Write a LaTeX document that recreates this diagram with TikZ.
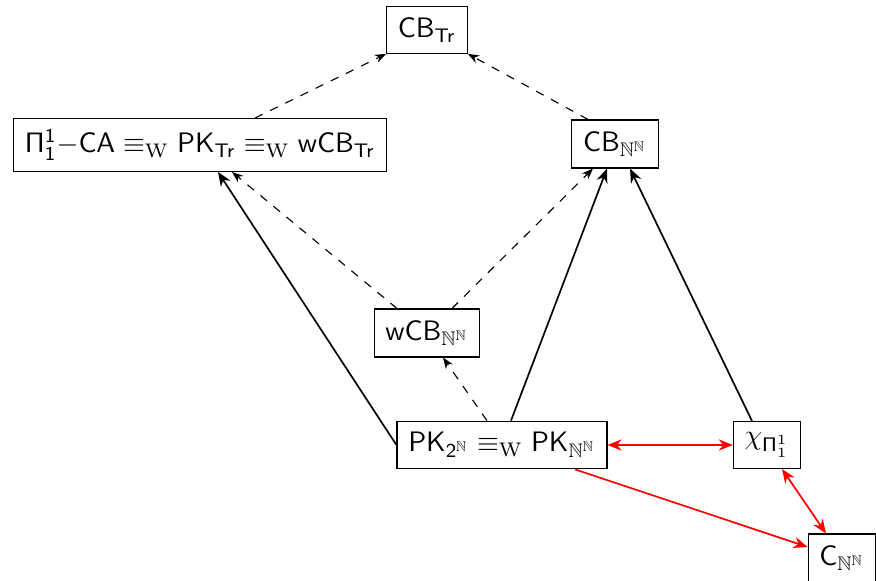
\documentclass[tikz,border=0pt]{standalone}
\usepackage{amssymb}
\usepackage{xcolor}
\usepackage{tikz}
\usetikzlibrary{calc,arrows.meta}

\begin{document}
\begin{tikzpicture}[x=0.0125cm,y=-0.0125cm,
    box/.style={draw, font=\sffamily, inner sep=4pt},
    weak/.style={dashed, -{Stealth[length=4pt,width=3pt]}},
    strong/.style={semithick, -{Stealth[length=5pt,width=4pt]}},
    equiv/.style={red, semithick, {Stealth[length=5pt,width=4pt]}-{Stealth[length=5pt,width=4pt]}},
    redarr/.style={red, semithick, -{Stealth[length=5pt,width=4pt]}}]
  \useasboundingbox (0,0) rectangle (876,581);
  % nodes
  \node[box] (cbtr) at (427,30) {CB$_{\mathsf{Tr}}$};
  \node[box] (pica) at (200,145) {$\mathsf{\Pi^1_1{-}CA}\equiv_{\mathrm{W}}\mathsf{PK_{Tr}}\equiv_{\mathrm{W}}\mathsf{wCB_{Tr}}$};
  \node[box] (cbnn) at (615,144) {CB$_{\mathbb{N}^{\mathbb{N}}}$};
  \node[box] (wcbnn) at (427,333) {wCB$_{\mathbb{N}^{\mathbb{N}}}$};
  \node[box] (pk) at (502,445) {$\mathsf{PK}_{\mathsf{2}^{\mathbb{N}}}\equiv_{\mathrm{W}}\mathsf{PK}_{\mathbb{N}^{\mathbb{N}}}$};
  \node[box] (chi) at (767,445) {$\chi_{\mathsf{\Pi}^1_1}$};
  \node[box] (cnn) at (842,558) {C$_{\mathbb{N}^{\mathbb{N}}}$};
  % dashed
  \draw[weak] ($(pica.north)+(55,0)$) -- (cbtr.south west);
  \draw[weak] ($(cbnn.north)+(-27,0)$) -- (cbtr.south east);
  \draw[weak] ($(wcbnn.north)+(-30,0)$) -- ($(pica.south)+(32,0)$);
  \draw[weak] ($(wcbnn.north)+(25,0)$) -- ($(cbnn.south)+(-22,0)$);
  \draw[weak] ($(pk.north)+(-15,0)$) -- ($(wcbnn.south)+(16,0)$);
  % solid
  \draw[strong] (pk.west) -- ($(pica.south)+(18,0)$);
  \draw[strong] ($(pk.north)+(9,0)$) -- ($(cbnn.south)+(-8,0)$);
  \draw[strong] ($(chi.north)+(-15,0)$) -- ($(cbnn.south)+(15,0)$);
  % red
  \draw[equiv] (pk) -- (chi);
  \draw[equiv] ($(chi.south)+(15,0)$) -- ($(cnn.north)+(-16,0)$);
  \draw[redarr] ($(pk.south)+(73,0)$) -- ($(cnn.west)+(0,-11)$);
\end{tikzpicture}
\end{document}
